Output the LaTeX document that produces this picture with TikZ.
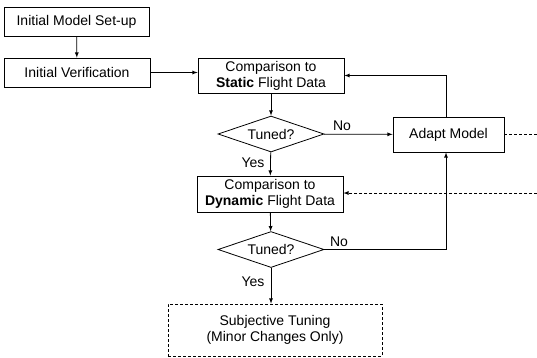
\documentclass[tikz,border=0pt]{standalone}
\usepackage{fontspec}
\setmainfont{Liberation Sans}
\usetikzlibrary{shapes.geometric}

\begin{document}
\begin{tikzpicture}[x=1pt,y=-1pt,>=latex,
	box/.style={draw, thick, align=center, inner sep=1pt},
	tuned/.style={draw, thick, diamond, aspect=3, inner sep=0pt, minimum width=106pt, minimum height=36pt},
	lbl/.style={inner sep=0pt},
	dsh/.style={thick, dash pattern=on 3pt off 2pt},
	font=\fontsize{14}{16}\selectfont]
	\useasboundingbox (0,0) rectangle (537,357);

		\node[box, minimum width=145pt, minimum height=29pt] (setup) at (76.5,21.5) {Initial Model Set-up};
		\node[box, minimum width=146pt, minimum height=29pt] (verif) at (77,72.5) {Initial Verification};
		\node[box, minimum width=146pt, minimum height=35pt] (static) at (271,75.5) {Comparison to\\\textbf{Static} Flight Data};
		\node[tuned] (d1) at (271,134) {Tuned?};
		\node[box, minimum width=111pt, minimum height=35pt] (adapt) at (448.5,134.5) {Adapt Model};
		\node[box, minimum width=146pt, minimum height=36pt] (dyn) at (270,194) {Comparison to\\\textbf{Dynamic} Flight Data};
		\node[tuned] (d2) at (271,249.5) {Tuned?};
		\node[box, dsh, minimum width=214pt, minimum height=52pt] (subj) at (275,330) {Subjective Tuning\\(Minor Changes Only)};

		\node[lbl] (no1) at (342,126) {No};
		\node[lbl] (no2) at (339,242) {No};
		\node[lbl] (yes1) at (253,163) {Yes};
		\node[lbl] (yes2) at (253,282) {Yes};

		\coordinate (fb) at (446,0);
		\coordinate (out1) at (537,134.5);
		\coordinate (in2) at (537,193);

		\draw[thick,->] (setup) -- (verif);
		\draw[thick,->] (verif.east) -- (verif.east -| static.west);
		\draw[thick,->] (static) -- (d1);
		\draw[thick,->] (d1) -- (adapt);
		\draw[thick,->] (d1) -- (dyn);
		\draw[thick,->] (adapt.north -| fb) |- (static.east);
		\draw[thick,->] (dyn) -- (d2);
		\draw[thick,->] (d2.east) -| (adapt.south -| fb);
		\draw[thick,->] (d2.south) -- (d2.south |- subj.north);

		\draw[dsh] (adapt.east) -- (out1);
		\draw[dsh,->] (in2) -- (in2 -| dyn.east);

\end{tikzpicture}
\end{document}
